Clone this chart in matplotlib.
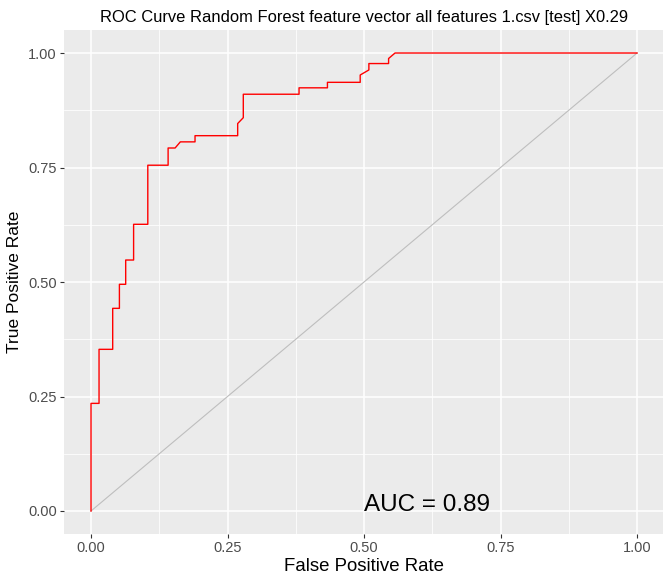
import matplotlib
matplotlib.use("Agg")
import matplotlib.pyplot as plt
from matplotlib.ticker import MultipleLocator

# ROC curve vertices
fpr = [0.0, 0.0, 0.0147, 0.0147, 0.0397, 0.0397, 0.052, 0.052, 0.0635, 0.0635,
       0.078, 0.078, 0.104, 0.104, 0.1412, 0.1412, 0.154, 0.1636, 0.1905, 0.1905,
       0.2686, 0.2686, 0.2789, 0.2789, 0.381, 0.381, 0.433, 0.433, 0.493, 0.493,
       0.5089, 0.5089, 0.545, 0.545, 0.5568, 1.0]
tpr = [0.0, 0.235, 0.235, 0.353, 0.353, 0.4425, 0.4425, 0.495, 0.495, 0.548,
       0.548, 0.626, 0.626, 0.755, 0.755, 0.7926, 0.7926, 0.806, 0.806, 0.8195,
       0.8195, 0.846, 0.8588, 0.910, 0.910, 0.924, 0.924, 0.936, 0.936, 0.952,
       0.963, 0.977, 0.977, 0.988, 1.0, 1.0]
auc_value = 0.89
title = "ROC Curve Random Forest feature vector all features 1.csv [test] X0.29"

plt.rcParams["font.family"] = ["Liberation Sans", "DejaVu Sans"]

fig = plt.figure(figsize=(6.63, 5.78), dpi=100)
ax = fig.add_axes([0.0961, 0.0763, 0.9059, 0.8716])
ax.set_facecolor("#EBEBEB")
for spine in ax.spines.values():
    spine.set_visible(False)

ax.set_xlim(-0.05, 1.05)
ax.set_ylim(-0.05, 1.05)
ax.xaxis.set_major_locator(MultipleLocator(0.25))
ax.yaxis.set_major_locator(MultipleLocator(0.25))
ax.xaxis.set_minor_locator(MultipleLocator(0.125))
ax.yaxis.set_minor_locator(MultipleLocator(0.125))
ax.grid(which="major", color="white", linewidth=1.1)
ax.grid(which="minor", color="white", linewidth=0.55)
ax.set_axisbelow(True)
ax.tick_params(which="major", length=3, width=0.8, color="#333333",
               labelcolor="#4D4D4D", labelsize=10.5, pad=2)
ax.tick_params(which="minor", length=0)
ax.xaxis.set_major_formatter(lambda v, p: f"{v:.2f}")
ax.yaxis.set_major_formatter(lambda v, p: f"{v:.2f}")

ax.plot([0, 1], [0, 1], color="#BEBEBE", linewidth=0.8)
ax.plot(fpr, tpr, color="red", linewidth=1.0)
ax.text(0.5, 0.0, f"AUC = {auc_value:.2f}", fontsize=17.5, ha="left", va="baseline",
        color="black")

ax.set_xlabel("False Positive Rate", fontsize=13.4, labelpad=2)
ax.set_ylabel("True Positive Rate", fontsize=12.5, labelpad=4)
ax.set_title(title, fontsize=11.9, pad=5.5)

fig.savefig("out.png", dpi=100)
